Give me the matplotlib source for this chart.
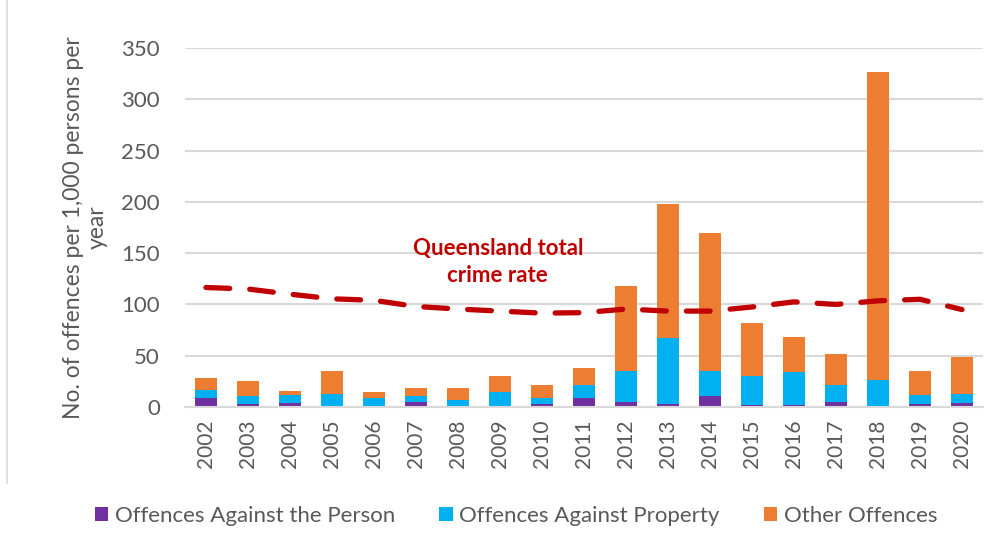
import matplotlib.pyplot as plt
import numpy as np

# values
years = [str(y) for y in range(2002, 2021)]
against_person = [9, 3, 4, 1, 1, 5, 1, 1, 3, 9, 5, 3, 11, 2, 2, 5, 1, 3, 4]
against_property = [8, 8, 8, 12, 8, 6, 6, 14, 6, 12, 30, 64, 24, 28, 32, 16, 25, 9, 9]
other_offences = [11, 14, 4, 22, 6, 8, 12, 15, 12, 17, 83, 131, 135, 52, 34, 31, 301, 23, 36]
qld_total_rate = [116.5, 115, 110, 105.5, 104, 98, 95.5, 93.5, 91.5, 92,
                  95.5, 93.5, 93.5, 97.5, 102.5, 100, 103.5, 105, 95]

plt.rcParams['font.family'] = ['Lato', 'DejaVu Sans']
grey = '#595959'

fig = plt.figure(figsize=(9.96, 5.37), dpi=100)
ax = fig.add_axes([0.1857, 0.2421, 0.8012, 0.6685])

x = np.arange(len(years))
p1 = np.array(against_person)
p2 = np.array(against_property)
p3 = np.array(other_offences)
ax.bar(x, p1, width=0.52, color='#7030A0', label='Offences Against the Person', zorder=2)
ax.bar(x, p2, width=0.52, bottom=p1, color='#00B0F0', label='Offences Against Property', zorder=2)
ax.bar(x, p3, width=0.52, bottom=p1 + p2, color='#ED7D31', label='Other Offences', zorder=2)

ax.plot(x, qld_total_rate, color='#C00000', lw=3.8, linestyle=(0, (4.5, 3.8)),
        dash_capstyle='round', zorder=3)
ax.text(6.95, 141, 'Queensland total\ncrime rate', color='#C00000', fontsize=16,
        fontweight='bold', ha='center', va='center', linespacing=1.35, zorder=4)

ax.set_xlim(-0.5, len(years) - 0.5)
ax.set_ylim(0, 350)
ax.set_yticks(range(0, 351, 50))
ax.set_xticks(x)
ax.set_xticklabels(years, rotation=90, fontsize=15, color=grey)
ax.tick_params(axis='y', labelsize=16, labelcolor=grey, length=0, pad=18)
ax.tick_params(axis='x', length=0, pad=9)
ax.grid(axis='y', color='#D9D9D9', lw=1.5, zorder=0)
ax.set_axisbelow(True)
for s in ['top', 'right', 'left']:
    ax.spines[s].set_visible(False)
ax.spines['bottom'].set_color('#D9D9D9')
ax.spines['bottom'].set_linewidth(1.5)

ax.set_ylabel('No. of offences per 1,000 persons per\nyear', fontsize=16.5,
              color=grey, labelpad=10, linespacing=1.15)

fig.legend(loc='center left', bbox_to_anchor=(0.095, 1 - 516 / 537), ncol=3,
           frameon=False, fontsize=16, labelcolor=grey, handlelength=0.6,
           handleheight=0.6, handletextpad=0.3, columnspacing=2.0,
           borderaxespad=0, borderpad=0)

# faint chart border on the left
fig.add_artist(plt.Line2D([0.007, 0.007], [0.1, 1.0], color='#E0E0E0', lw=1.5))

fig.savefig('out.png', dpi=100)
